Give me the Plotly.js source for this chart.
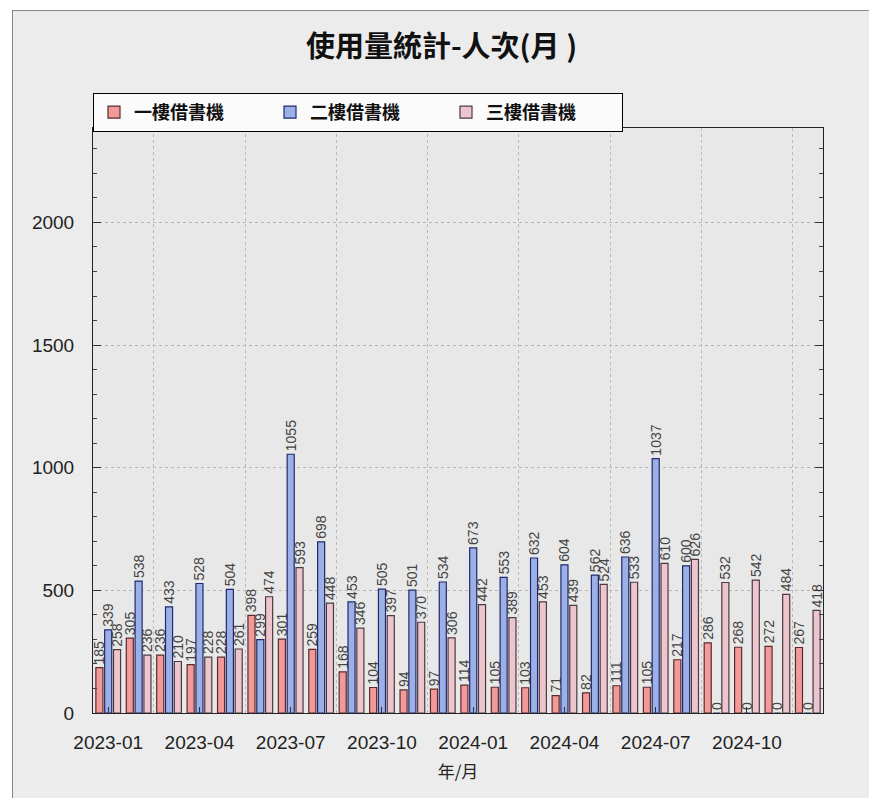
<!DOCTYPE html>
<html>
<head>
<meta charset="utf-8">
<script src="https://cdn.plot.ly/plotly-3.0.1.min.js"></script>
<style>
  html, body { margin: 0; padding: 0; background: #ffffff; }
  #chart { position: absolute; left: 12px; top: 10px; width: 857px; height: 788px;
           border-left: 1px solid #888; border-top: 1px solid #888; box-sizing: border-box; }
</style>
</head>
<body>
<div id="chart"></div>
<script>
const months = ['2023-01','2023-02','2023-03','2023-04','2023-05','2023-06','2023-07','2023-08','2023-09','2023-10','2023-11','2023-12',
                '2024-01','2024-02','2024-03','2024-04','2024-05','2024-06','2024-07','2024-08','2024-09','2024-10','2024-11','2024-12'];
const floor1 = [185, 305, 236, 197, 228, 398, 301, 259, 168, 104, 94, 97, 114, 105, 103, 71, 82, 111, 105, 217, 286, 268, 272, 267];
const floor2 = [339, 538, 433, 528, 504, 299, 1055, 698, 453, 505, 501, 534, 673, 553, 632, 604, 562, 636, 1037, 600, 0, 0, 0, 0];
const floor3 = [258, 236, 210, 228, 261, 474, 593, 448, 346, 397, 370, 306, 442, 389, 453, 439, 524, 533, 610, 626, 532, 542, 484, 418];
const seriesNames = ['一樓借書機', '二樓借書機', '三樓借書機'];
const xTickLabels = ['2023-01','2023-04','2023-07','2023-10','2024-01','2024-04','2024-07','2024-10'];
const yTicks = [0, 500, 1000, 1500, 2000];

const fills = ['#f29a9a', '#9db0e6', '#ecc6cc'];
const edges = ['#5b2b2b', '#1f2a6e', '#4c3a42'];
const data = [floor1, floor2, floor3];

const traces = data.map((vals, i) => ({
  type: 'bar',
  name: seriesNames[i],
  x: months,
  y: vals,
  text: vals.map(String),
  textposition: 'outside',
  textangle: -90,
  constraintext: 'none',
  cliponaxis: false,
  textfont: { family: 'Liberation Sans, Arial, sans-serif', size: 14, color: '#444' },
  marker: { color: fills[i], line: { color: edges[i], width: 1.2 } },
  xaxis: 'x', yaxis: 'y'
}));

const tickIdx = xTickLabels.map(l => months.indexOf(l));
const gridIdx = tickIdx.map(v => v + 1.5).filter(v => v < months.length);

// overlay axis carrying the dotted vertical grid
traces.push({ type: 'scatter', x: [], y: [], xaxis: 'x2', yaxis: 'y', showlegend: false, hoverinfo: 'skip' });

const layout = {
  width: 857, height: 788,
  paper_bgcolor: '#ececec',
  plot_bgcolor: '#e8e8e8',
  margin: { l: 80, r: 47, t: 117, b: 86 },
  title: {
    text: '<b>使用量統計-人次(月 )</b>',
    font: { family: 'Noto Sans CJK TC, sans-serif', size: 29, color: '#111' },
    x: 0.5, xanchor: 'center', y: 0.955, yanchor: 'middle'
  },
  barmode: 'group',
  bargap: 0.13,
  bargroupgap: 0.2,
  showlegend: true,
  legend: {
    orientation: 'h', x: 0, xanchor: 'left', y: 1.06, yanchor: 'top',
    bgcolor: '#fbfbfb', bordercolor: '#000', borderwidth: 1,
    font: { family: 'Noto Sans CJK TC, sans-serif', size: 18, color: '#111', weight: 'bold' },
    entrywidth: 131, tracegroupgap: 0
  },
  xaxis: {
    type: 'category',
    range: [-0.5, months.length - 0.5],
    tickvals: xTickLabels, ticktext: xTickLabels,
    ticks: 'inside', ticklen: 6, tickcolor: '#333',
    ticklabelstandoff: 12,
    showgrid: false, zeroline: false,
    showline: true, linecolor: '#222', linewidth: 1, mirror: true,
    tickfont: { family: 'Liberation Sans, Arial, sans-serif', size: 19, color: '#222' },
    title: { text: '年/月', font: { family: 'Noto Sans CJK TC, sans-serif', size: 17, color: '#222' }, standoff: 14 }
  },
  xaxis2: {
    overlaying: 'x', type: 'linear',
    range: [-0.5, months.length - 0.5],
    tickvals: gridIdx, showticklabels: false, ticks: '',
    showgrid: true, gridcolor: '#b8b8b8', griddash: 'dot', gridwidth: 1,
    zeroline: false, showline: false
  },
  yaxis: {
    range: [0, 2385],
    tickvals: yTicks,
    ticks: 'inside', ticklen: 8, tickcolor: '#333',
    ticklabelstandoff: 14,
    minor: { ticks: 'inside', ticklen: 4, dtick: 100, tickcolor: '#444', showgrid: false },
    showgrid: true, gridcolor: '#b8b8b8', griddash: 'dot', gridwidth: 1,
    zeroline: false,
    showline: true, linecolor: '#222', linewidth: 1, mirror: 'ticks',
    tickfont: { family: 'Liberation Sans, Arial, sans-serif', size: 19, color: '#222' }
  }
};

Plotly.newPlot('chart', traces, layout, { displayModeBar: false, staticPlot: true });
</script>
</body>
</html>
